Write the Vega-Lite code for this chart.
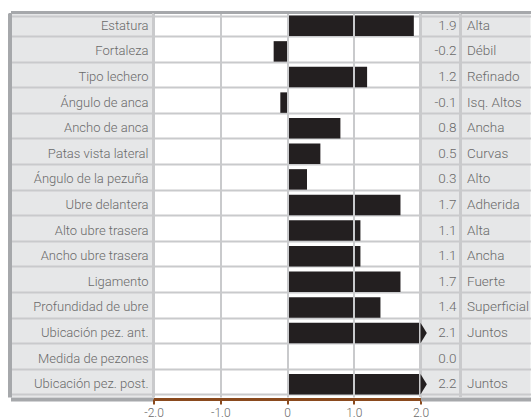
{
  "$schema": "https://vega.github.io/schema/vega-lite/v6.json",
  "padding": {"left": 9.5, "top": 12, "right": 0, "bottom": 0},
  "spacing": 0,
  "bounds": "flush",
  "data": {"values": [
    {"trait": "Estatura", "value": 1.9, "desc": "Alta"},
    {"trait": "Fortaleza", "value": -0.2, "desc": "Débil"},
    {"trait": "Tipo lechero", "value": 1.2, "desc": "Refinado"},
    {"trait": "Ángulo de anca", "value": -0.1, "desc": "Isq. Altos"},
    {"trait": "Ancho de anca", "value": 0.8, "desc": "Ancha"},
    {"trait": "Patas vista lateral", "value": 0.5, "desc": "Curvas"},
    {"trait": "Ángulo de la pezuña", "value": 0.3, "desc": "Alto"},
    {"trait": "Ubre delantera", "value": 1.7, "desc": "Adherida"},
    {"trait": "Alto ubre trasera", "value": 1.1, "desc": "Alta"},
    {"trait": "Ancho ubre trasera", "value": 1.1, "desc": "Ancha"},
    {"trait": "Ligamento", "value": 1.7, "desc": "Fuerte"},
    {"trait": "Profundidad de ubre", "value": 1.4, "desc": "Superficial"},
    {"trait": "Ubicación pez. ant.", "value": 2.1, "desc": "Juntos"},
    {"trait": "Medida de pezones", "value": 0.0, "desc": ""},
    {"trait": "Ubicación pez. post.", "value": 2.2, "desc": "Juntos"}
  ]},
  "config": {
    "font": "Roboto",
    "view": {"stroke": null},
    "concat": {"spacing": 0},
    "locale": {"number": {"decimal": ".", "thousands": ",", "grouping": [3], "currency": ["$", ""], "minus": "-"}},
    "text": {"font": "Roboto", "fontSize": 13, "fontWeight": 300, "color": "#6a6a6a", "baseline": "middle"}
  },
  "hconcat": [
    {
      "width": 143,
      "height": 384,
      "view": {"fill": "#e6e7e8", "stroke": null},
      "resolve": {"axis": {"x": "independent"}},
      "layer": [
        {
          "mark": {"type": "rule", "color": "#a6a8ab", "strokeWidth": 2},
          "encoding": {
            "x": {"datum": 0, "type": "quantitative", "scale": {"domain": [0, 1]},
              "axis": {"orient": "top", "offset": 1, "domainColor": "#a6a8ab", "domainWidth": 3, "ticks": false, "labels": false, "grid": false, "title": null, "zindex": 2}}
          }
        },
        {
          "mark": {"type": "text", "align": "right", "dx": -5},
          "encoding": {
            "y": {"field": "trait", "type": "nominal", "sort": null, "scale": {"paddingInner": 0.2, "paddingOuter": 0.1},
              "axis": {"title": null, "labels": false, "ticks": false, "domain": true, "domainColor": "#a6a8ab", "domainWidth": 4, "offset": 1, "grid": true, "tickBand": "extent", "gridColor": "#c9cacc", "gridWidth": 2, "zindex": 1}},
            "x": {"datum": 1, "type": "quantitative",
              "axis": {"orient": "bottom", "offset": 2, "domainColor": "#a6a8ab", "domainWidth": 4, "ticks": false, "labels": false, "grid": false, "title": null, "zindex": 2}},
            "text": {"field": "trait"}
          }
        }
      ]
    },
    {
      "width": 267,
      "height": 384,
      "view": {"fill": "#ffffff", "stroke": null},
      "resolve": {"axis": {"x": "independent"}},
      "layer": [
        {
          "mark": {"type": "bar", "color": "#231f20"},
          "encoding": {
            "y": {"field": "trait", "type": "nominal", "sort": null, "scale": {"paddingInner": 0.2, "paddingOuter": 0.1},
              "axis": {"title": null, "labels": false, "ticks": false, "domain": false, "grid": true, "tickBand": "extent", "gridColor": "#c9cacc", "gridWidth": 2}},
            "x": {"field": "value", "type": "quantitative", "scale": {"domain": [-2, 2], "clamp": true, "nice": false},
              "axis": {"orient": "bottom", "values": [-2, -1, 0, 1, 2], "labelExpr": "datum.value === 0 ? '0' : format(datum.value, '.1f')",
                "offset": 2, "domainColor": "#8a4a1e", "domainWidth": 3, "tickColor": "#8a4a1e", "tickWidth": 2, "tickSize": 5,
                "labelColor": "#6a6a6a", "labelFont": "Roboto", "labelFontSize": 12, "labelFontWeight": 300, "labelPadding": 3, "labelFlush": false,
                "grid": true, "gridColor": "#c9cacc", "gridWidth": 2, "title": null, "zindex": 1}}
          }
        },
        {
          "mark": {"type": "rule", "color": "#c9cacc", "strokeWidth": 2},
          "encoding": {
            "x": {"datum": -2, "type": "quantitative",
              "axis": {"orient": "top", "offset": 1, "domainColor": "#a6a8ab", "domainWidth": 3, "ticks": false, "labels": false, "grid": false, "title": null, "zindex": 2}}
          }
        }
      ]
    },
    {
      "width": 40,
      "height": 384,
      "view": {"fill": "#e6e7e8", "stroke": null},
      "resolve": {"axis": {"x": "independent"}},
      "layer": [
        {
          "mark": {"type": "rule", "color": "#c9cacc", "strokeWidth": 2},
          "encoding": {
            "x": {"datum": 0, "type": "quantitative", "scale": {"domain": [0, 1]},
              "axis": {"orient": "top", "offset": 1, "domainColor": "#a6a8ab", "domainWidth": 3, "ticks": false, "labels": false, "grid": false, "title": null, "zindex": 2}}
          }
        },
        {
          "mark": {"type": "text", "align": "right", "dx": -4, "fontSize": 13.5},
          "encoding": {
            "y": {"field": "trait", "type": "nominal", "sort": null, "scale": {"paddingInner": 0.2, "paddingOuter": 0.1},
              "axis": {"title": null, "labels": false, "ticks": false, "domain": false, "grid": true, "tickBand": "extent", "gridColor": "#c9cacc", "gridWidth": 2}},
            "x": {"datum": 1, "type": "quantitative",
              "axis": {"orient": "bottom", "offset": 2, "domainColor": "#a6a8ab", "domainWidth": 4, "ticks": false, "labels": false, "grid": false, "title": null, "zindex": 2}},
            "text": {"field": "value", "type": "quantitative", "format": ".1f"}
          }
        },
        {
          "transform": [{"filter": "datum.value > 2"}],
          "mark": {"type": "point", "shape": "M0,-1L0.62,0L0,1Z", "filled": true, "opacity": 1, "color": "#231f20", "size": 416, "strokeWidth": 0},
          "encoding": {
            "y": {"field": "trait", "type": "nominal", "sort": null},
            "x": {"datum": 0, "type": "quantitative", "axis": null}
          }
        }
      ]
    },
    {
      "width": 70,
      "height": 384,
      "view": {"fill": "#e6e7e8", "stroke": null},
      "resolve": {"axis": {"x": "independent"}},
      "layer": [
        {
          "mark": {"type": "rule", "color": "#c9cacc", "strokeWidth": 2},
          "encoding": {
            "x": {"datum": 0, "type": "quantitative", "scale": {"domain": [0, 1]},
              "axis": {"orient": "top", "offset": 1, "domainColor": "#a6a8ab", "domainWidth": 3, "ticks": false, "labels": false, "grid": false, "title": null, "zindex": 2}}
          }
        },
        {
          "mark": {"type": "text", "align": "left", "dx": 6.5, "limit": 63, "ellipsis": "", "fontSize": 13.5},
          "encoding": {
            "y": {"field": "trait", "type": "nominal", "sort": null, "scale": {"paddingInner": 0.2, "paddingOuter": 0.1},
              "axis": {"title": null, "labels": false, "ticks": false, "domain": false, "grid": true, "tickBand": "extent", "gridColor": "#c9cacc", "gridWidth": 2}},
            "x": {"datum": 0, "type": "quantitative",
              "axis": {"orient": "bottom", "offset": 2, "domainColor": "#a6a8ab", "domainWidth": 4, "ticks": false, "labels": false, "grid": false, "title": null, "zindex": 2}},
            "text": {"field": "desc"}
          }
        }
      ]
    }
  ]
}
